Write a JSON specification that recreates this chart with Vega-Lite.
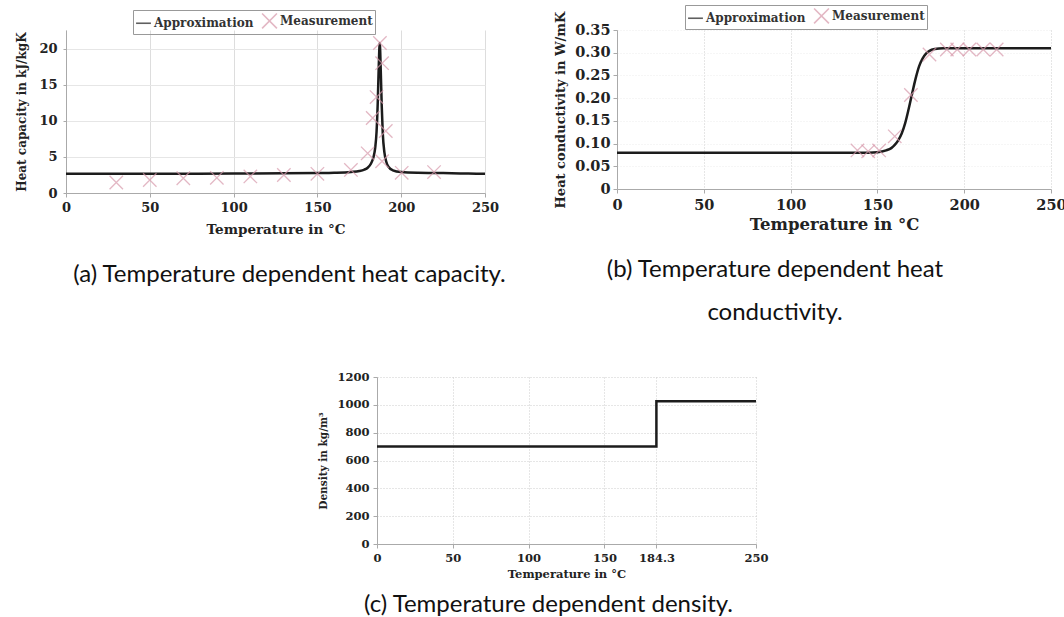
{
  "$schema": "https://vega.github.io/schema/vega-lite/v6.json",
  "autosize": "none",
  "padding": {"left": 66, "top": 30, "right": 998, "bottom": 587},
  "background": "white",
  "bounds": "full",
  "spacing": 46,
  "resolve": {
    "scale": {"color": "independent", "shape": "independent", "x": "independent", "y": "independent"},
    "legend": {"color": "independent", "shape": "independent"}
  },
  "vconcat": [
    {
      "bounds": "flush",
      "spacing": 132,
      "resolve": {
        "scale": {"color": "independent", "shape": "independent", "x": "independent", "y": "independent"},
        "legend": {"color": "independent", "shape": "independent"}
      },
      "hconcat": [
        {
          "width": 419,
          "height": 163,
          "title": {"text": "(a) Temperature dependent heat capacity.", "offset": 27, "dx": 14},
          "layer": [
            {
              "data": {"values": [
                {"T": 0, "c": 2.66, "series": "Approximation"},
                {"T": 50, "c": 2.66, "series": "Approximation"},
                {"T": 100, "c": 2.7, "series": "Approximation"},
                {"T": 130, "c": 2.73, "series": "Approximation"},
                {"T": 150, "c": 2.77, "series": "Approximation"},
                {"T": 160, "c": 2.81, "series": "Approximation"},
                {"T": 170, "c": 2.92, "series": "Approximation"},
                {"T": 175, "c": 3.05, "series": "Approximation"},
                {"T": 178, "c": 3.25, "series": "Approximation"},
                {"T": 180, "c": 3.5, "series": "Approximation"},
                {"T": 182, "c": 4.1, "series": "Approximation"},
                {"T": 183.5, "c": 5.0, "series": "Approximation"},
                {"T": 184.5, "c": 6.3, "series": "Approximation"},
                {"T": 185.3, "c": 8.5, "series": "Approximation"},
                {"T": 186, "c": 12.5, "series": "Approximation"},
                {"T": 186.6, "c": 17.5, "series": "Approximation"},
                {"T": 187.2, "c": 20.8, "series": "Approximation"},
                {"T": 187.8, "c": 17.0, "series": "Approximation"},
                {"T": 188.4, "c": 12.0, "series": "Approximation"},
                {"T": 189, "c": 8.3, "series": "Approximation"},
                {"T": 190, "c": 5.6, "series": "Approximation"},
                {"T": 191, "c": 4.4, "series": "Approximation"},
                {"T": 192.5, "c": 3.6, "series": "Approximation"},
                {"T": 195, "c": 3.15, "series": "Approximation"},
                {"T": 200, "c": 2.9, "series": "Approximation"},
                {"T": 210, "c": 2.8, "series": "Approximation"},
                {"T": 225, "c": 2.76, "series": "Approximation"},
                {"T": 240, "c": 2.7, "series": "Approximation"},
                {"T": 250, "c": 2.66, "series": "Approximation"}
              ]},
              "mark": {"type": "line", "interpolate": "monotone", "strokeWidth": 2.5},
              "encoding": {
                "x": {"field": "T", "type": "quantitative",
                  "scale": {"domain": [0, 250], "nice": false},
                  "axis": {"values": [0, 50, 100, 150, 200, 250], "tickCount": 6, "labelOverlap": false, "title": "Temperature in °C", "labelFontSize": 13, "titleFontSize": 13.5, "tickSize": 4, "labelPadding": 4, "titlePadding": 8, "gridColor": "#dddddd", "labelFlush": false}},
                "y": {"field": "c", "type": "quantitative",
                  "scale": {"domain": [0, 22.6], "nice": false},
                  "axis": {"values": [0, 5, 10, 15, 20], "tickCount": 5, "labelOverlap": false, "title": "Heat capacity in kJ/kgK", "labelFontSize": 13, "titleFontSize": 12, "tickSize": 3, "labelPadding": 6, "titlePadding": 10, "gridColor": "#e6e6e6"}},
                "color": {"field": "series", "type": "nominal",
                  "scale": {"domain": ["Approximation", "Measurement"], "range": ["#1c1c1c", "#d89aac"]},
                  "legend": {"orient": "none", "legendX": 67, "legendY": -20, "direction": "horizontal", "title": null}}
              }
            },
            {
              "data": {"values": [
                {"T": 30, "c": 1.45, "series": "Measurement"},
                {"T": 50, "c": 1.8, "series": "Measurement"},
                {"T": 70, "c": 2.05, "series": "Measurement"},
                {"T": 90, "c": 2.1, "series": "Measurement"},
                {"T": 110, "c": 2.3, "series": "Measurement"},
                {"T": 130, "c": 2.5, "series": "Measurement"},
                {"T": 150, "c": 2.66, "series": "Measurement"},
                {"T": 170, "c": 3.2, "series": "Measurement"},
                {"T": 180, "c": 5.5, "series": "Measurement"},
                {"T": 183, "c": 10.4, "series": "Measurement"},
                {"T": 185.3, "c": 13.3, "series": "Measurement"},
                {"T": 187.3, "c": 20.8, "series": "Measurement"},
                {"T": 188.6, "c": 18.0, "series": "Measurement"},
                {"T": 190.8, "c": 8.6, "series": "Measurement"},
                {"T": 188.6, "c": 4.4, "series": "Measurement"},
                {"T": 200.3, "c": 2.8, "series": "Measurement"},
                {"T": 219.6, "c": 2.9, "series": "Measurement"}
              ]},
              "mark": {"type": "point", "filled": false, "size": 180, "strokeWidth": 1.3},
              "encoding": {
                "x": {"field": "T", "type": "quantitative"},
                "y": {"field": "c", "type": "quantitative"},
                "color": {"field": "series", "type": "nominal"},
                "shape": {"field": "series", "type": "nominal",
                  "scale": {"domain": ["Approximation", "Measurement"], "range": ["stroke", "M-1,-1L1,1M-1,1L1,-1"]},
                  "legend": {"orient": "none", "legendX": 67, "legendY": -20, "direction": "horizontal", "title": null}}
              }
            }
          ]
        },
        {
          "width": 434,
          "height": 159,
          "title": {"text": ["(b) Temperature dependent heat", "conductivity."], "offset": 25, "dx": -59, "lineHeight": 43},
          "layer": [
            {
              "data": {"values": [
                {"T": 0, "k": 0.08, "series": "Approximation"},
                {"T": 145, "k": 0.08, "series": "Approximation"},
                {"T": 150, "k": 0.081, "series": "Approximation"},
                {"T": 155, "k": 0.085, "series": "Approximation"},
                {"T": 158, "k": 0.09, "series": "Approximation"},
                {"T": 160, "k": 0.097, "series": "Approximation"},
                {"T": 162, "k": 0.107, "series": "Approximation"},
                {"T": 164, "k": 0.122, "series": "Approximation"},
                {"T": 166, "k": 0.145, "series": "Approximation"},
                {"T": 168, "k": 0.176, "series": "Approximation"},
                {"T": 170, "k": 0.21, "series": "Approximation"},
                {"T": 172, "k": 0.243, "series": "Approximation"},
                {"T": 174, "k": 0.27, "series": "Approximation"},
                {"T": 176, "k": 0.287, "series": "Approximation"},
                {"T": 178, "k": 0.298, "series": "Approximation"},
                {"T": 180, "k": 0.304, "series": "Approximation"},
                {"T": 183, "k": 0.308, "series": "Approximation"},
                {"T": 188, "k": 0.31, "series": "Approximation"},
                {"T": 250, "k": 0.31, "series": "Approximation"}
              ]},
              "mark": {"type": "line", "interpolate": "monotone", "strokeWidth": 2.5},
              "encoding": {
                "x": {"field": "T", "type": "quantitative",
                  "scale": {"domain": [0, 250], "nice": false},
                  "axis": {"values": [0, 50, 100, 150, 200, 250], "tickCount": 6, "labelOverlap": false, "title": "Temperature in °C", "labelFontSize": 14.5, "titleFontSize": 16.5, "tickSize": 4, "labelPadding": 5, "titlePadding": 5, "gridColor": "#cccccc", "gridDash": [1, 2], "labelFlush": false}},
                "y": {"field": "k", "type": "quantitative",
                  "scale": {"domain": [0, 0.35], "nice": false},
                  "axis": {"values": [0, 0.05, 0.1, 0.15, 0.2, 0.25, 0.3, 0.35], "tickCount": 8, "labelExpr": "datum.value == 0 ? '0' : format(datum.value, '.2f')", "labelOverlap": false, "title": "Heat conductivity in W/mK", "labelFontSize": 14.5, "titleFontSize": 13, "tickSize": 4, "labelPadding": 3, "titlePadding": 7, "gridColor": "#ececec", "gridDash": [1, 2]}},
                "color": {"field": "series", "type": "nominal",
                  "scale": {"domain": ["Approximation", "Measurement"], "range": ["#1c1c1c", "#d89aac"]},
                  "legend": {"orient": "none", "legendX": 68, "legendY": -25, "direction": "horizontal", "title": null}}
              }
            },
            {
              "data": {"values": [
                {"T": 138.5, "k": 0.085, "series": "Measurement"},
                {"T": 144.7, "k": 0.083, "series": "Measurement"},
                {"T": 151, "k": 0.085, "series": "Measurement"},
                {"T": 160, "k": 0.116, "series": "Measurement"},
                {"T": 169.3, "k": 0.207, "series": "Measurement"},
                {"T": 180, "k": 0.296, "series": "Measurement"},
                {"T": 190, "k": 0.307, "series": "Measurement"},
                {"T": 196, "k": 0.307, "series": "Measurement"},
                {"T": 203, "k": 0.307, "series": "Measurement"},
                {"T": 211, "k": 0.307, "series": "Measurement"},
                {"T": 218.7, "k": 0.307, "series": "Measurement"}
              ]},
              "mark": {"type": "point", "filled": false, "size": 180, "strokeWidth": 1.3},
              "encoding": {
                "x": {"field": "T", "type": "quantitative"},
                "y": {"field": "k", "type": "quantitative"},
                "color": {"field": "series", "type": "nominal"},
                "shape": {"field": "series", "type": "nominal",
                  "scale": {"domain": ["Approximation", "Measurement"], "range": ["stroke", "M-1,-1L1,1M-1,1L1,-1"]},
                  "legend": {"orient": "none", "legendX": 68, "legendY": -25, "direction": "horizontal", "title": null}}
              }
            }
          ]
        }
      ]
    },
    {
      "bounds": "flush",
      "spacing": 310,
      "hconcat": [
        {
          "width": 1,
          "height": 1,
          "data": {"values": [{"v": 0}]},
          "mark": {"type": "point", "opacity": 0},
          "encoding": {}
        },
        {
          "width": 379,
          "height": 167,
          "title": {"text": "(c) Temperature dependent density.", "offset": 13, "dx": -18},
          "data": {"values": [
            {"T": 0, "rho": 700},
            {"T": 184.3, "rho": 1025},
            {"T": 250, "rho": 1025}
          ]},
          "mark": {"type": "line", "interpolate": "step-after", "strokeWidth": 2.5, "color": "#1c1c1c"},
          "encoding": {
            "x": {"field": "T", "type": "quantitative",
              "scale": {"domain": [0, 250], "nice": false},
              "axis": {"values": [0, 50, 100, 150, 184.3, 250], "tickCount": 6, "labelOverlap": false, "format": ".1~f", "title": "Temperature in °C", "labelFontSize": 11.5, "titleFontSize": 11.5, "tickSize": 4, "labelPadding": 4, "titlePadding": 5, "gridColor": "#cccccc", "gridDash": [1, 2], "labelFlush": false}},
            "y": {"field": "rho", "type": "quantitative",
              "scale": {"domain": [0, 1200], "nice": false},
              "axis": {"values": [0, 200, 400, 600, 800, 1000, 1200], "tickCount": 7, "labelOverlap": false, "format": "d", "title": "Density in kg/m³", "labelFontSize": 11.5, "titleFontSize": 10.5, "tickSize": 4, "labelPadding": 4, "titlePadding": 8, "gridColor": "#cccccc", "gridDash": [1, 2]}}
          }
        }
      ]
    }
  ],
  "config": {
    "view": {"stroke": null},
    "font": "DejaVu Serif",
    "axis": {
      "labelFont": "DejaVu Serif", "labelFontWeight": "bold", "labelColor": "#222222",
      "titleFont": "DejaVu Serif", "titleFontWeight": "bold", "titleColor": "#222222",
      "domainColor": "#aaaaaa", "tickColor": "#aaaaaa", "grid": true
    },
    "legend": {
      "labelFont": "DejaVu Serif", "labelFontSize": 12, "labelFontWeight": "bold", "labelColor": "#333333",
      "strokeColor": "#999999", "padding": 2, "symbolSize": 220, "symbolStrokeWidth": 1.6,
      "columnPadding": 4, "labelOffset": 2
    },
    "title": {"font": "Lato", "fontWeight": "normal", "fontSize": 24, "color": "#111111", "orient": "bottom", "anchor": "middle", "baseline": "top"}
  }
}
